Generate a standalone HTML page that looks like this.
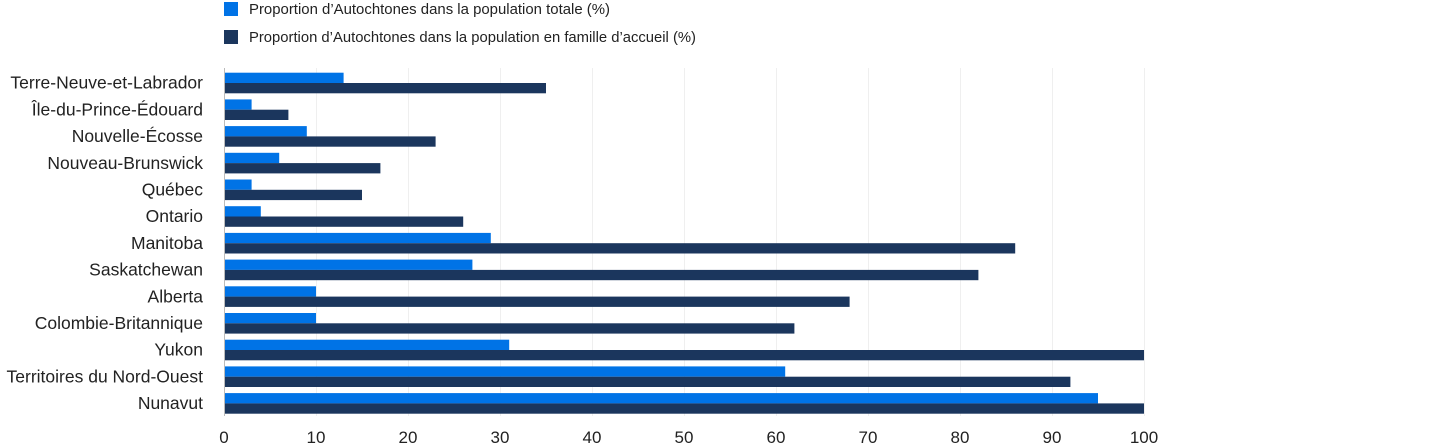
<!DOCTYPE html><html><head><meta charset="utf-8"><style>body{margin:0;background:#fff}svg{display:block}text{font-family:"Liberation Sans",sans-serif;fill:#222}</style></head><body>
<svg width="1440" height="447" xmlns="http://www.w3.org/2000/svg">
<rect x="224" y="2" width="14" height="14" fill="#0073e6"/>
<text x="249" y="14" font-size="15" textLength="361" lengthAdjust="spacingAndGlyphs">Proportion d’Autochtones dans la population totale (%)</text>
<rect x="224" y="30" width="14" height="14" fill="#1b365d"/>
<text x="249" y="42" font-size="15" textLength="447" lengthAdjust="spacingAndGlyphs">Proportion d’Autochtones dans la population en famille d’accueil (%)</text>
<g stroke="#efefef" stroke-width="1">
<line x1="316.5" y1="68" x2="316.5" y2="416"/><line x1="408.5" y1="68" x2="408.5" y2="416"/><line x1="500.5" y1="68" x2="500.5" y2="416"/><line x1="592.5" y1="68" x2="592.5" y2="416"/><line x1="684.5" y1="68" x2="684.5" y2="416"/><line x1="776.5" y1="68" x2="776.5" y2="416"/><line x1="868.5" y1="68" x2="868.5" y2="416"/><line x1="960.5" y1="68" x2="960.5" y2="416"/><line x1="1052.5" y1="68" x2="1052.5" y2="416"/><line x1="1144.5" y1="68" x2="1144.5" y2="416"/>
</g>
<g id="bars"></g>
<line x1="224.5" y1="68" x2="224.5" y2="416" stroke="#bbb"/>
<g font-size="17" text-anchor="middle">
<text x="224" y="443">0</text><text x="316" y="443">10</text><text x="408" y="443">20</text><text x="500" y="443">30</text><text x="592" y="443">40</text><text x="684" y="443">50</text><text x="776" y="443">60</text><text x="868" y="443">70</text><text x="960" y="443">80</text><text x="1052" y="443">90</text><text x="1144" y="443">100</text>
</g>
<g id="labels" font-size="17.5" text-anchor="end"></g>
<script>
var d=[["Terre-Neuve-et-Labrador",13,35],["Île-du-Prince-Édouard",3,7],["Nouvelle-Écosse",9,23],["Nouveau-Brunswick",6,17],["Québec",3,15],["Ontario",4,26],["Manitoba",29,86],["Saskatchewan",27,82],["Alberta",10,68],["Colombie-Britannique",10,62],["Yukon",31,100],["Territoires du Nord-Ouest",61,92],["Nunavut",95,100]];
var ns="http://www.w3.org/2000/svg",b=document.getElementById("bars"),l=document.getElementById("labels");
d.forEach(function(r,i){var y=72.7+i*26.7;
function rc(v,yy,c){var e=document.createElementNS(ns,"rect");e.setAttribute("x",225);e.setAttribute("y",yy);e.setAttribute("width",v*9.2-1);e.setAttribute("height",10.3);e.setAttribute("fill",c);b.appendChild(e);}
rc(r[1],y,"#0073e6");rc(r[2],y+10.3,"#1b365d");
var t=document.createElementNS(ns,"text");t.setAttribute("x",203);t.setAttribute("y",y+16);t.textContent=r[0];l.appendChild(t);});
</script>
</svg></body></html>
